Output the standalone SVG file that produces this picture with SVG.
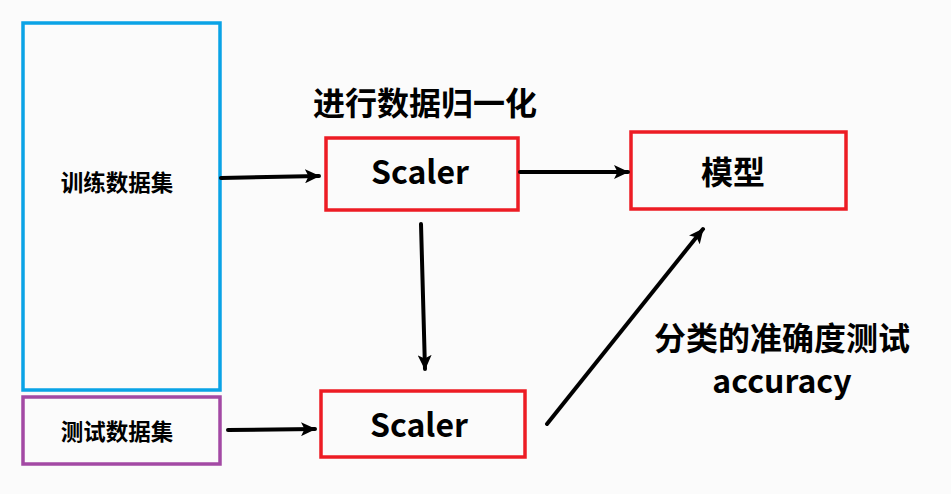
<svg xmlns="http://www.w3.org/2000/svg" width="951" height="494" viewBox="0 0 951 494">
<defs>
<marker id="ah" markerWidth="16" markerHeight="14" refX="14" refY="7" orient="auto" markerUnits="userSpaceOnUse">
<path d="M0,0 L15,7 L0,14 L3.5,7 Z" fill="#000"/>
</marker>
<style>
.t{font-family:"Noto Sans CJK SC","Microsoft YaHei",sans-serif;font-weight:bold;fill:#000;text-anchor:middle}
.box{fill:none;stroke-width:3.5}
.red{stroke:#ed1c24}
.c{stroke:#000;stroke-width:4;fill:none;stroke-linecap:round;marker-end:url(#ah)}
</style>
</defs>
<rect x="0" y="0" width="951" height="494" fill="#fbfbfb"/>
<g id="train">
<rect class="box" x="23" y="23" width="197" height="367" stroke="#0aa3e6"/>
<text class="t" x="117" y="191" font-size="22.5">训练数据集</text>
</g>
<g id="test">
<rect class="box" x="23" y="397" width="197" height="67" stroke="#a349a4"/>
<text class="t" x="117" y="440" font-size="22.5">测试数据集</text>
</g>
<g id="title">
<text class="t" x="425" y="115" font-size="32">进行数据归一化</text>
</g>
<g id="scaler1">
<rect class="box red" x="326" y="138" width="192" height="72"/>
<text class="t" x="420" y="184" font-size="32">Scaler</text>
</g>
<g id="scaler2">
<rect class="box red" x="321" y="391" width="204" height="66"/>
<text class="t" x="419" y="437" font-size="32">Scaler</text>
</g>
<g id="model">
<rect class="box red" x="631" y="132" width="215" height="77"/>
<text class="t" x="733" y="184" font-size="32">模型</text>
</g>
<g id="acc">
<text class="t" x="782" y="350" font-size="32">分类的准确度测试</text>
<text class="t" x="782" y="393" font-size="32">accuracy</text>
</g>
<g id="connectors">
<line class="c" x1="221" y1="178" x2="319" y2="176"/>
<line class="c" x1="520" y1="172" x2="628" y2="172"/>
<line class="c" x1="421" y1="224" x2="425" y2="369"/>
<line class="c" x1="228" y1="430" x2="315" y2="429"/>
<line class="c" x1="547" y1="424" x2="703" y2="229"/>
</g>
</svg>
